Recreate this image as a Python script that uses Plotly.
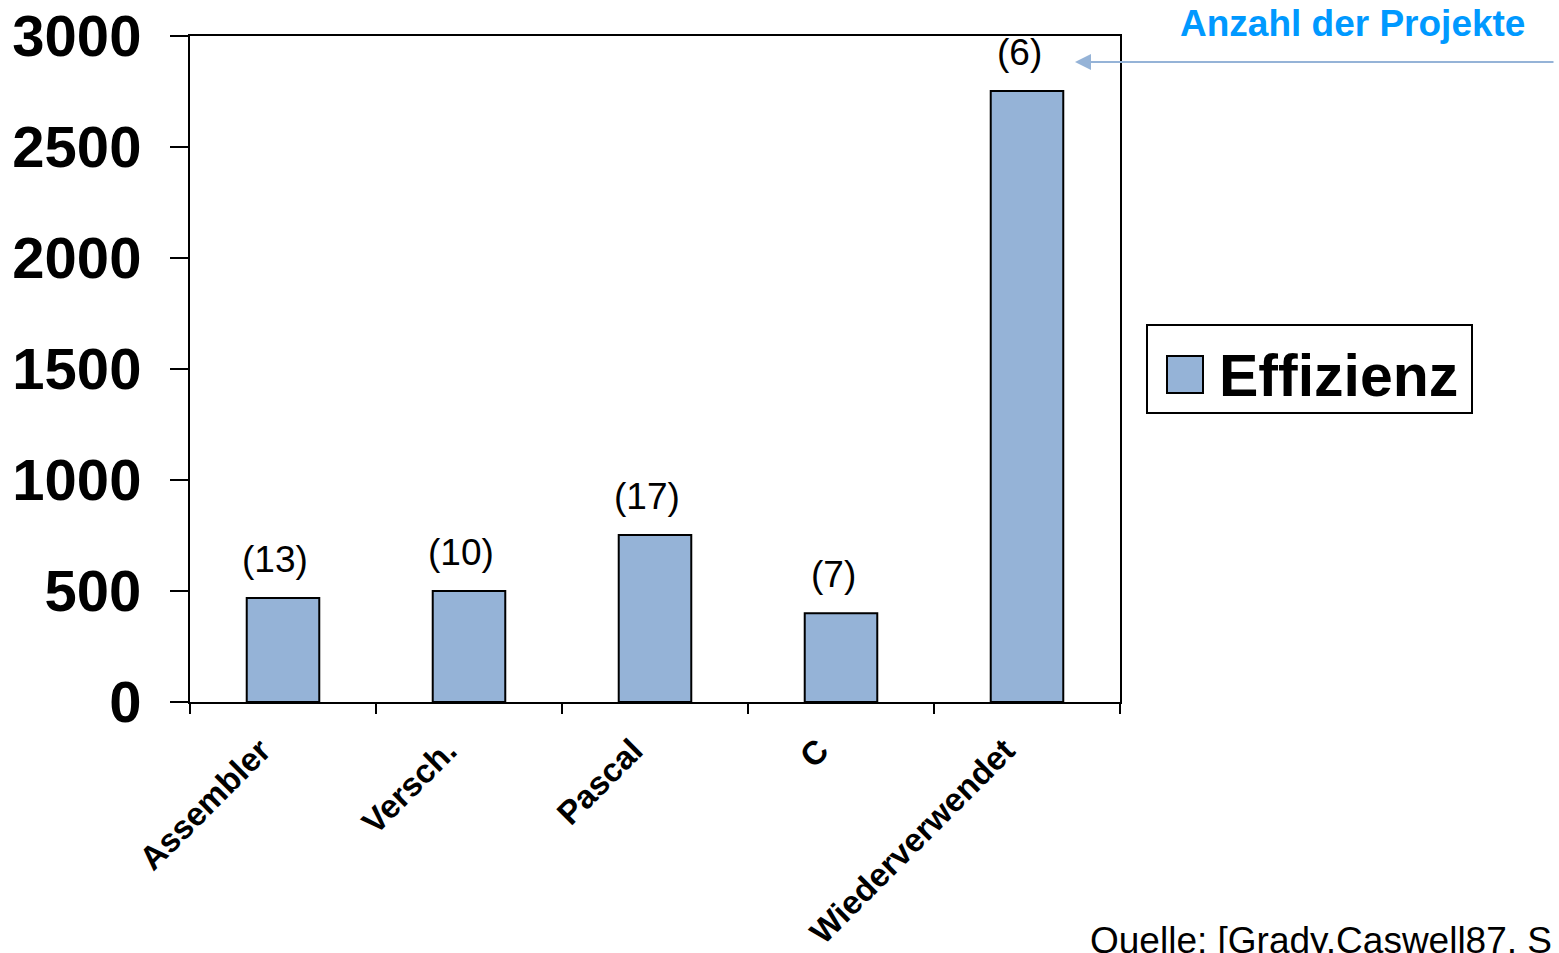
import plotly.graph_objects as go

# Efficiency per language group and number of projects in each group
categories = ["Assembler", "Versch.", "Pascal", "C", "Wiederverwendet"]
effizienz = [468, 500, 752, 400, 2752]
projekte = ["(13)", "(10)", "(17)", "(7)", "(6)"]
y_ticks = [0, 500, 1000, 1500, 2000, 2500, 3000]

W, H = 1559, 953
L, R, T, B = 190, 1120, 36, 702  # plot area in pixels

def px(p):
    return (p - L) / (R - L)

def py(p):
    return (B - p) / (B - T)

FONT = "Liberation Sans, Arial, sans-serif"
BAR_COLOR = "#95B3D7"

fig = go.Figure()
fig.add_trace(go.Bar(
    x=categories,
    y=effizienz,
    name="Effizienz",
    marker=dict(color=BAR_COLOR, line=dict(color="black", width=2)),
    showlegend=False,
))

# project counts above the bars
for cat, val, txt in zip(categories, effizienz, projekte):
    fig.add_annotation(
        x=cat, y=val, text=txt, showarrow=False,
        xanchor="center", yanchor="middle", xshift=-8, yshift=39,
        font=dict(family=FONT, size=37, color="black"),
    )

# legend box drawn by hand so the swatch can be large
fig.add_shape(type="rect", xref="paper", yref="paper",
              x0=px(1147), x1=px(1472), y0=py(413), y1=py(325),
              line=dict(color="black", width=2), fillcolor="white")
fig.add_shape(type="rect", xref="paper", yref="paper",
              x0=px(1167), x1=px(1203), y0=py(393), y1=py(356),
              line=dict(color="black", width=2), fillcolor=BAR_COLOR)
fig.add_annotation(xref="paper", yref="paper", x=px(1217), y=py(376),
                   text="Effizienz", showarrow=False,
                   xanchor="left", yanchor="middle",
                   font=dict(family=FONT, size=59, color="black", weight="bold"))

# header note with arrow pointing at the count labels
fig.add_annotation(xref="paper", yref="paper", x=px(1352), y=py(23),
                   text="Anzahl der Projekte", showarrow=False,
                   xanchor="center", yanchor="middle",
                   font=dict(family=FONT, size=37, color="#0099FF", weight="bold"))
fig.add_annotation(xref="paper", yref="paper", x=px(1075), y=py(62),
                   text="", showarrow=True, ax=480, ay=0,
                   arrowhead=2, arrowsize=1.6, arrowwidth=2,
                   arrowcolor="#95B3D7", standoff=0, startstandoff=0)

# source note (runs past the page edge)
fig.add_annotation(xref="paper", yref="paper", x=px(1088), y=py(918),
                   text="Quelle: [Grady,Caswell87, S", showarrow=False,
                   xanchor="left", yanchor="top",
                   font=dict(family=FONT, size=37, color="black"))

fig.update_layout(
    width=W, height=H,
    margin=dict(l=L, r=W - R, t=T, b=H - B, pad=0),
    paper_bgcolor="white", plot_bgcolor="white",
    bargap=0.61,
    xaxis=dict(
        type="category", automargin=False,
        showline=True, linecolor="black", linewidth=2, mirror=True,
        ticks="outside", ticklen=10, tickwidth=2, tickcolor="black",
        tickson="boundaries",
        tickangle=-45,
        ticklabelstandoff=14, ticklabelshift=-22,
        tickfont=dict(family=FONT, size=33, color="black", weight="bold"),
        showgrid=False,
    ),
    yaxis=dict(
        range=[0, 3000], automargin=False,
        tickvals=y_ticks,
        ticktext=[str(v) for v in y_ticks],
        showline=True, linecolor="black", linewidth=2, mirror=True,
        ticks="outside", ticklen=18, tickwidth=2, tickcolor="black",
        tickfont=dict(family=FONT, size=58, color="black", weight="bold"),
        ticklabelstandoff=17,
        showgrid=False, zeroline=False,
    ),
)

fig.write_html("out.html")
